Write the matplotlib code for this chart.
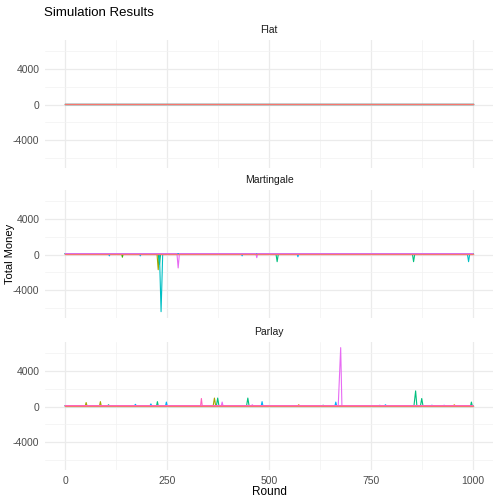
import matplotlib.pyplot as plt
from matplotlib.ticker import MultipleLocator

plt.rcParams["font.family"] = ["Liberation Sans", "DejaVu Sans"]
plt.rcParams["axes.unicode_minus"] = False

# ggplot-style hue palette, one colour per simulation run
run_colors = ["#F8766D", "#D89000", "#A3A500", "#39B600", "#00BF7D",
              "#00BFC4", "#00B0F6", "#9590FF", "#E76BF3", "#FF62BC"]
strategies = ["Flat", "Martingale", "Parlay"]
start_money = 100
last_round = 1000

# excursions away from the starting bankroll: (run, first round, peak round, back round, money at peak)
flat_moves = []
martingale_moves = [
    (6, 106, 108, 110, -150),
    (3, 138, 140, 142, -300),
    (6, 182, 184, 186, -150),
    (2, 225, 228, 231, -1700),
    (4, 228, 231, 234, -1100),
    (5, 231, 235, 239, -6400),
    (8, 274, 277, 280, -1500),
    (6, 432, 434, 436, -150),
    (8, 468, 470, 472, -350),
    (4, 517, 520, 523, -800),
    (6, 569, 571, 573, -250),
    (4, 852, 855, 858, -800),
    (5, 987, 990, 993, -800),
]
parlay_moves = [
    (2, 49, 51, 53, 450),
    (2, 84, 86, 88, 550),
    (4, 104, 106, 108, 200),
    (6, 170, 172, 174, 250),
    (6, 208, 210, 212, 300),
    (4, 224, 226, 228, 550),
    (6, 246, 248, 250, 500),
    (9, 332, 334, 336, 900),
    (2, 363, 366, 369, 950),
    (4, 371, 374, 377, 950),
    (8, 383, 385, 387, 500),
    (4, 445, 448, 451, 950),
    (8, 457, 459, 461, 200),
    (6, 481, 483, 485, 550),
    (1, 571, 573, 575, 200),
    (4, 631, 633, 635, 150),
    (6, 662, 664, 666, 500),
    (8, 670, 676, 679, 6600),
    (7, 770, 772, 774, 150),
    (6, 784, 786, 788, 200),
    (4, 856, 860, 863, 1750),
    (4, 872, 875, 878, 900),
    (6, 898, 900, 902, 150),
    (7, 928, 930, 932, 150),
    (1, 953, 955, 957, 200),
    (4, 995, 997, 999, 500),
]
strategy_moves = [flat_moves, martingale_moves, parlay_moves]

x_ticks = [0, 250, 500, 750, 1000]
y_ticks = [-4000, 0, 4000]


def run_path(moves, run):
    rounds, money = [0], [start_money]
    for r, first, peak, back, value in sorted(m for m in moves if m[0] == run):
        rounds += [first, peak, back]
        money += [start_money, value, start_money]
    rounds.append(last_round)
    money.append(start_money)
    return rounds, money


fig = plt.figure(figsize=(5, 5), dpi=100)
left, right = 0.09, 0.986
panel_tops = [0.92, 0.62, 0.316]
panel_h = 0.256

# draw red last so it sits on top like the reference
draw_order = list(range(1, len(run_colors))) + [0]

axes = []
for i, (name, moves) in enumerate(zip(strategies, strategy_moves)):
    ax = fig.add_axes([left, panel_tops[i] - panel_h, right - left, panel_h])
    for run in draw_order:
        xs, ys = run_path(moves, run)
        ax.plot(xs, ys, color=run_colors[run], lw=0.8)
    ax.set_xlim(-50, 1050)
    ax.set_ylim(-7110, 7230)
    ax.set_xticks(x_ticks)
    ax.set_yticks(y_ticks)
    ax.xaxis.set_minor_locator(MultipleLocator(125))
    ax.yaxis.set_minor_locator(MultipleLocator(2000))
    ax.grid(which="major", color="#EBEBEB", lw=0.9)
    ax.grid(which="minor", color="#F2F2F2", lw=0.5)
    ax.set_axisbelow(True)
    for s in ax.spines.values():
        s.set_visible(False)
    ax.tick_params(which="both", length=0, labelsize=7.5, labelcolor="#4D4D4D", pad=4)
    if i < 2:
        ax.tick_params(axis="x", labelbottom=False)
    ax.set_title(name, fontsize=7.5, color="#1A1A1A", pad=5)
    axes.append(ax)

axes[-1].set_xlabel("Round", fontsize=8.5, labelpad=0)
fig.text(0.02, 0.492, "Total Money", rotation=90, fontsize=8, va="center", ha="center")
fig.text(0.088, 0.975, "Simulation Results", fontsize=9.5, va="center", ha="left")

fig.savefig("out.png", dpi=100, facecolor="white")
